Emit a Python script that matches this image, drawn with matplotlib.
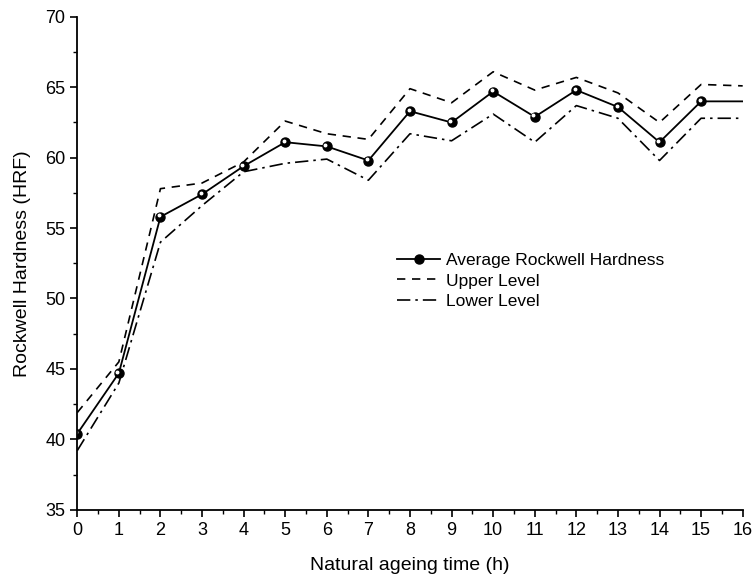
import matplotlib
matplotlib.use("Agg")
import matplotlib.pyplot as plt
import matplotlib.transforms as mtransforms
from matplotlib.ticker import MultipleLocator

plt.rcParams['font.family'] = ['Liberation Sans', 'DejaVu Sans']

hours = [0, 1, 2, 3, 4, 5, 6, 7, 8, 9, 10, 11, 12, 13, 14, 15, 16]
average = [40.4, 44.7, 55.8, 57.4, 59.4, 61.1, 60.8, 59.8, 63.3, 62.5, 64.7, 62.9, 64.8, 63.6, 61.1, 64.0, 64.0]
upper = [41.9, 45.5, 57.8, 58.2, 59.7, 62.6, 61.7, 61.3, 64.9, 63.9, 66.1, 64.8, 65.7, 64.6, 62.5, 65.2, 65.1]
lower = [39.2, 44.0, 54.0, 56.6, 59.0, 59.6, 59.9, 58.4, 61.7, 61.2, 63.1, 61.1, 63.7, 62.8, 59.8, 62.8, 62.8]

fig = plt.figure(figsize=(7.54, 5.8), dpi=100)
ax = fig.add_axes([0.1025, 0.1212, 0.8825, 0.8497])

n = len(hours) - 1
ax.plot(hours, average, color='black', lw=1.3, label='Average Rockwell Hardness',
        marker='o', markersize=6.5, markerfacecolor='black', markeredgecolor='black',
        markevery=list(range(n)))
# small highlight on the spherical markers
hl = mtransforms.offset_copy(ax.transData, fig=fig, x=-1.0, y=1.0, units='points')
ax.plot(hours[:n], average[:n], linestyle='none', marker='o', markersize=1.8,
        markerfacecolor='white', markeredgecolor='white', transform=hl)
ax.plot(hours, upper, color='black', lw=1.2, linestyle=(0, (5, 4)), label='Upper Level')
ax.plot(hours, lower, color='black', lw=1.2, linestyle=(0, (8, 3, 1.5, 3)), label='Lower Level')

ax.set_xlim(0, 16)
ax.set_ylim(35, 70)
ax.xaxis.set_major_locator(MultipleLocator(1))
ax.xaxis.set_minor_locator(MultipleLocator(0.5))
ax.yaxis.set_major_locator(MultipleLocator(5))
ax.yaxis.set_minor_locator(MultipleLocator(2.5))

for s in ['top', 'right']:
    ax.spines[s].set_visible(False)
for s in ['left', 'bottom']:
    ax.spines[s].set_linewidth(1.3)

ax.tick_params(axis='both', which='major', direction='out', length=5, width=1.2, labelsize=13)
ax.tick_params(axis='both', which='minor', direction='out', length=3, width=1.0)

ax.set_xlabel('Natural ageing time (h)', fontsize=14, labelpad=13)
ax.set_ylabel('Rockwell Hardness (HRF)', fontsize=14, labelpad=10)

handles, labels = ax.get_legend_handles_labels()
ax.legend(handles, labels, loc='upper left', bbox_to_anchor=(0.47, 0.535), frameon=False, fontsize=12.5,
          handlelength=2.5, handletextpad=0.3, labelspacing=0.3, borderaxespad=0)

fig.savefig('out.png', dpi=100)
